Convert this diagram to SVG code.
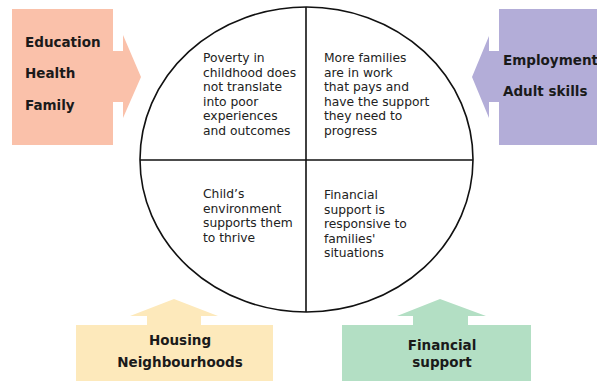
<svg xmlns="http://www.w3.org/2000/svg" width="597" height="381" viewBox="0 0 597 381">
<style>
.lbl{font-family:"DejaVu Sans",sans-serif;font-weight:bold;font-size:13.5px;fill:#1a1a1a}
.q{font-family:"DejaVu Sans",sans-serif;font-size:12.3px;fill:#222}
.ln{stroke:#111;stroke-width:1.6;fill:none}
</style>
<rect width="597" height="381" fill="#fff"/>
<g id="education">
<path d="M12,9 H113 V51 H123 V35 L141,77 L123,118 V102 H113 V145 H12 Z" fill="#FAC1AA"/>
<text class="lbl" x="25" y="47">Education</text>
<text class="lbl" x="25" y="78">Health</text>
<text class="lbl" x="25" y="110">Family</text>
</g>
<g id="employment">
<path d="M597,9 H499 V51 H489 V36 L472,77 L489,118 V102 H499 V145 H597 Z" fill="#B3ADD8"/>
<text class="lbl" x="503" y="65">Employment</text>
<text class="lbl" x="503" y="96">Adult skills</text>
</g>
<g id="housing">
<path d="M76,381 V325 H147 V316 H130 L174,299 L218,316 H201 V325 H273 V381 Z" fill="#FDE9BB"/>
<text class="lbl" x="180" y="345" text-anchor="middle">Housing</text>
<text class="lbl" x="180" y="367" text-anchor="middle">Neighbourhoods</text>
</g>
<g id="financial">
<path d="M342,381 V325 H413 V316 H397 L440,299 L486,316 H468 V325 H531 V381 Z" fill="#B3DFC4"/>
<text class="lbl" x="442" y="350" text-anchor="middle">Financial</text>
<text class="lbl" x="442" y="367" text-anchor="middle">support</text>
</g>
<g id="connectors">
<ellipse class="ln" cx="306.5" cy="159.5" rx="166.5" ry="152.5"/>
<line class="ln" x1="140" y1="160" x2="473" y2="160"/>
<line class="ln" x1="306" y1="7" x2="306" y2="312"/>
</g>
<g id="q1">
<text class="q" x="203" y="62">Poverty in</text>
<text class="q" x="203" y="76.5">childhood does</text>
<text class="q" x="203" y="91">not translate</text>
<text class="q" x="203" y="105.5">into poor</text>
<text class="q" x="203" y="120">experiences</text>
<text class="q" x="203" y="134.5">and outcomes</text>
</g>
<g id="q2">
<text class="q" x="324" y="62">More families</text>
<text class="q" x="324" y="76.5">are in work</text>
<text class="q" x="324" y="91">that pays and</text>
<text class="q" x="324" y="105.5">have the support</text>
<text class="q" x="324" y="120">they need to</text>
<text class="q" x="324" y="134.5">progress</text>
</g>
<g id="q3">
<text class="q" x="203" y="198">Child’s</text>
<text class="q" x="203" y="212.5">environment</text>
<text class="q" x="203" y="227">supports them</text>
<text class="q" x="203" y="241.5">to thrive</text>
</g>
<g id="q4">
<text class="q" x="324" y="199">Financial</text>
<text class="q" x="324" y="213.5">support is</text>
<text class="q" x="324" y="228">responsive to</text>
<text class="q" x="324" y="242.5">families'</text>
<text class="q" x="324" y="257">situations</text>
</g>
</svg>
